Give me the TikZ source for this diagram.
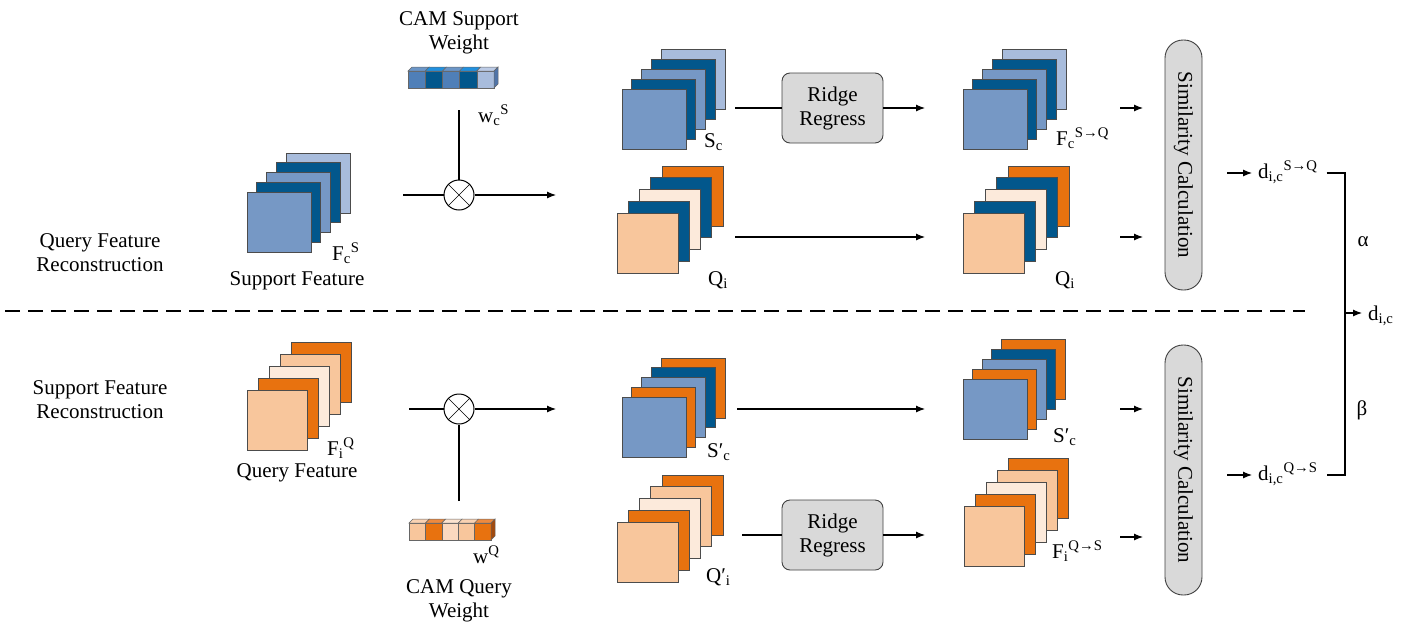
\documentclass[tikz,border=0pt]{standalone}
\usepackage{fontspec}
\setmainfont{Liberation Serif}
\usetikzlibrary{arrows.meta, positioning}

\definecolor{lblue}{HTML}{7698C5}
\definecolor{dblue}{HTML}{02578C}
\definecolor{pblue}{HTML}{A8BCDC}
\definecolor{orng}{HTML}{E8720F}
\definecolor{peach}{HTML}{F8C69C}
\definecolor{cream}{HTML}{FCEADB}
\definecolor{boxgray}{HTML}{D9D9D9}
% weight vector cells
\definecolor{mblue}{HTML}{4F7FB8}
\definecolor{mbluetop}{HTML}{6B96C8}
\definecolor{dbluetop}{HTML}{2191E0}
\definecolor{pbluetop}{HTML}{BCCBE6}
\definecolor{bside}{HTML}{5074A8}
\definecolor{peachtop}{HTML}{F9D2B2}
\definecolor{orngtop}{HTML}{EE8A3E}
\definecolor{lpeach}{HTML}{FBD9BF}
\definecolor{lpeachtop}{HTML}{FCE3CF}
\definecolor{oside}{HTML}{A24A0E}

\tikzset{
  fmap/.style={draw=black!70, line width=0.8pt},
  cell/.style={draw=black!60, line width=0.5pt},
  ridgebox/.style={draw=black!75, fill=boxgray, rounded corners=8pt, line width=0.9pt,
    minimum width=101pt, minimum height=70pt, align=center, inner sep=0pt},
  simbox/.style={draw=black!75, fill=boxgray, rounded corners=18pt, line width=0.9pt,
    minimum width=250pt, minimum height=37pt, rotate=-90, inner sep=0pt},
  mul/.style={circle, draw, minimum size=30pt, inner sep=0pt, line width=1pt},
  arr/.style={-{Latex[length=9pt,width=7pt]}, line width=1.1pt},
  conn/.style={line width=1.1pt},
  lbl/.style={inner sep=0pt, anchor=base west},
}

% stack of feature maps: front top-left (#1,#2), width #3, step (#4,#5), colours back to front #6
\newcommand{\fstack}[6]{%
  \foreach \col [count=\k from 0] in {#6}{
    \pgfmathsetmacro{\off}{4-\k}
    \filldraw[fmap, fill=\col] ({#1+\off*#4},{#2-\off*#5}) rectangle ++(#3,60);
  }}

% weight vector: left top (#1,#2), cell width #3, side colour #4, front/top colours #5
\newcommand{\wbar}[5]{%
  \foreach \f/\t [count=\k from 0] in {#5}{
    \filldraw[cell, fill=\f] ({#1+\k*#3},#2) rectangle ++(#3,17);
    \filldraw[cell, fill=\t] ({#1+\k*#3},#2) -- ++(4,-4) -- ++(#3,0) -- ++(-4,4) -- cycle;
  }
  \filldraw[cell, fill=#4] ({#1+5*#3},#2) -- ++(4,-4) -- ++(0,17) -- ++(-4,4) -- cycle;}

\begin{document}
\begin{tikzpicture}[x=1pt, y=-1pt, font=\fontsize{21}{24}\selectfont]
  \useasboundingbox (0,0) rectangle (1415,627);

  % left titles
  \node[align=center, inner sep=0pt] (qrec) at (100,253) {Query Feature\\Reconstruction};
  \node[align=center, inner sep=0pt] (srec) at (100,400) {Support Feature\\Reconstruction};

  % separator
  \draw[line width=2.6pt, dash pattern=on 15pt off 8pt] (5,311) -- (1305,311);

  % ---------- upper half ----------
  \fstack{247}{192}{64}{9.75}{9.75}{pblue,dblue,lblue,dblue,lblue}
  \node[lbl] (fcs) at (332,260) {F\textsubscript{c}\textsuperscript{S}};
  \node[inner sep=0pt, anchor=base] (supf) at (297,285) {Support Feature};

  \node[align=center, inner sep=0pt] (camS) at (459,33) {CAM Support\\Weight};
  \wbar{408}{71}{17.2}{bside}{mblue/mbluetop,dblue/dbluetop,mblue/mbluetop,dblue/dbluetop,pblue/pbluetop}
  \node[lbl] (wcs) at (478,122) {w\textsubscript{c}\textsuperscript{S}};

  \node[mul] (mulS) at (459,195) {};
  \draw (mulS.north west) -- (mulS.south east) (mulS.north east) -- (mulS.south west);
  \coordinate (wS) at (459,110);
  \coordinate (inS) at (403,195);
  \coordinate (outS) at (556,195);
  \draw[conn] (wS) -- (mulS);
  \draw[conn] (inS) -- (mulS);
  \draw[arr] (mulS) -- (outS);

  \fstack{622}{89}{64}{9.75}{10}{pblue,dblue,lblue,dblue,lblue}
  \node[lbl] (sc) at (704,147) {S\textsubscript{c}};
  \fstack{617}{213}{61}{11.25}{11.75}{orng,dblue,cream,dblue,peach}
  \node[lbl] (qi) at (708,285) {Q\textsubscript{i}};

  \node[ridgebox] (ridgeS) at (832.5,108) {Ridge\\Regress};
  \coordinate (sc0) at (735,108);
  \coordinate (sc1) at (925,108);
  \draw[conn] (sc0) -- (ridgeS);
  \draw[arr] (ridgeS) -- (sc1);
  \coordinate (qi0) at (735,237);
  \coordinate (qi1) at (925,237);
  \draw[arr] (qi0) -- (qi1);

  \fstack{963}{89}{64}{9.75}{10}{pblue,dblue,lblue,dblue,lblue}
  \node[lbl] (fsq) at (1056,145) {F\textsubscript{c}\textsuperscript{S→Q}};
  \fstack{963}{213}{61}{11.25}{11.75}{orng,dblue,cream,dblue,peach}
  \node[lbl] (qir) at (1055,285) {Q\textsubscript{i}};

  \node[simbox] (simS) at (1183.5,165) {Similarity Calculation};
  \foreach \y/\n in {108/a,237/b}{
    \coordinate (s\n0) at (1120,\y);
    \coordinate (s\n1) at (1143,\y);
    \draw[arr] (s\n0) -- (s\n1);
  }

  % ---------- lower half ----------
  \fstack{247}{390}{60}{11}{12}{orng,peach,cream,orng,peach}
  \node[lbl] (fiq) at (327,455) {F\textsubscript{i}\textsuperscript{Q}};
  \node[inner sep=0pt, anchor=base] (qryf) at (297,477) {Query Feature};

  \node[mul] (mulQ) at (459,409) {};
  \draw (mulQ.north west) -- (mulQ.south east) (mulQ.north east) -- (mulQ.south west);
  \coordinate (wQ) at (459,501);
  \coordinate (inQ) at (409,409);
  \coordinate (outQ) at (556,409);
  \draw[conn] (wQ) -- (mulQ);
  \draw[conn] (inQ) -- (mulQ);
  \draw[arr] (mulQ) -- (outQ);

  \wbar{409}{523}{16.4}{oside}{peach/peachtop,orng/orngtop,lpeach/lpeachtop,peach/peachtop,orng/orngtop}
  \node[lbl] (wq) at (473,563) {w\textsuperscript{Q}};
  \node[align=center, inner sep=0pt] (camQ) at (459,601) {CAM Query\\Weight};

  \fstack{622}{397}{64}{9.75}{9.75}{orng,dblue,lblue,orng,lblue}
  \node[lbl] (spc) at (707,457) {S′\textsubscript{c}};
  \fstack{617}{522}{61}{11.25}{11.75}{orng,peach,cream,orng,peach}
  \node[lbl] (qpi) at (706,582) {Q′\textsubscript{i}};

  \coordinate (sp0) at (737,409);
  \coordinate (sp1) at (925,409);
  \draw[arr] (sp0) -- (sp1);
  \node[ridgebox] (ridgeQ) at (832.5,535) {Ridge\\Regress};
  \coordinate (qp0) at (742,535);
  \coordinate (qp1) at (925,535);
  \draw[conn] (qp0) -- (ridgeQ);
  \draw[arr] (ridgeQ) -- (qp1);

  \fstack{963}{379}{64}{9.5}{10}{orng,dblue,lblue,orng,lblue}
  \node[lbl] (spcr) at (1053,442) {S′\textsubscript{c}};
  \fstack{964}{506}{60}{11}{12}{orng,peach,cream,orng,peach}
  \node[lbl] (fqs) at (1052,558) {F\textsubscript{i}\textsuperscript{Q→S}};

  \node[simbox] (simQ) at (1183.5,470) {Similarity Calculation};
  \foreach \y/\n in {409/c,537/d}{
    \coordinate (s\n0) at (1120,\y);
    \coordinate (s\n1) at (1143,\y);
    \draw[arr] (s\n0) -- (s\n1);
  }

  % ---------- fusion ----------
  \coordinate (oSQ) at (1227,173);
  \coordinate (oQS) at (1227,475);
  \node[lbl] (dsq) at (1258,178) {d\textsubscript{i,c}\textsuperscript{S→Q}};
  \node[lbl] (dqs) at (1258,480) {d\textsubscript{i,c}\textsuperscript{Q→S}};
  \draw[arr] (oSQ) -- ([xshift=-6pt]oSQ -| dsq.west);
  \draw[arr] (oQS) -- ([xshift=-6pt]oQS -| dqs.west);
  \coordinate (jSQ) at (1345,173);
  \coordinate (jQS) at (1345,475);
  \coordinate (jmid) at (1345,313);
  \draw[conn] ([xshift=9pt]dsq.east |- jSQ) -- (jSQ) -- (jQS) -- ([xshift=9pt]dqs.east |- jQS);
  \node[lbl] (dic) at (1368,320) {d\textsubscript{i,c}};
  \draw[arr] (jmid) -- ([xshift=-6pt]jmid -| dic.west);
  \node (alpha) at (1363,242) {α};
  \node (beta) at (1362,410) {β};
\end{tikzpicture}
\end{document}
